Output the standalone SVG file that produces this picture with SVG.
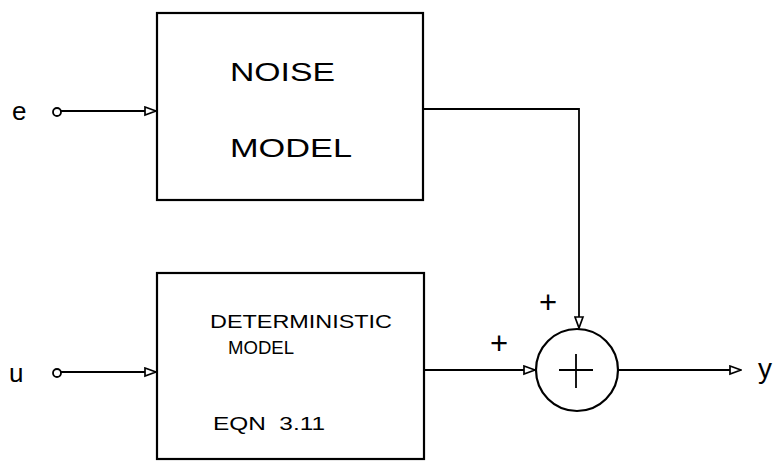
<svg xmlns="http://www.w3.org/2000/svg" width="774" height="463" viewBox="0 0 774 463">
<defs>
<style>
.box{fill:none;stroke:#000;stroke-width:2.2}
.ln{fill:none;stroke:#000;stroke-width:1.8}
.t{font-family:"Liberation Sans",Arial,sans-serif;fill:#000}
</style>
<marker id="ah" markerWidth="13" markerHeight="11" refX="12" refY="5.5" orient="auto" markerUnits="userSpaceOnUse">
<path d="M1,1.5 L12,5.5 L1,9.5 Z" fill="#fff" stroke="#000" stroke-width="1.7"/>
</marker>
</defs>
<rect width="774" height="463" fill="#fff"/>
<g id="input-e">
<circle cx="57" cy="112" r="4" class="ln" fill="#fff"/>
<text class="t" x="12" y="120" font-size="26">e</text>
</g>
<g id="input-u">
<circle cx="57" cy="373" r="4" class="ln" fill="#fff"/>
<text class="t" x="9" y="382" font-size="26">u</text>
</g>
<g id="noise-model">
<rect x="157" y="13" width="266" height="187" class="box"/>
<text class="t" x="230" y="81" font-size="25" textLength="105" lengthAdjust="spacingAndGlyphs">NOISE</text>
<text class="t" x="230" y="157" font-size="25" textLength="122" lengthAdjust="spacingAndGlyphs">MODEL</text>
</g>
<g id="deterministic-model">
<rect x="157" y="273" width="267" height="186" class="box"/>
<text class="t" x="210" y="328" font-size="19" textLength="182" lengthAdjust="spacingAndGlyphs">DETERMINISTIC</text>
<text class="t" x="228" y="354" font-size="19" textLength="66" lengthAdjust="spacingAndGlyphs">MODEL</text>
<text class="t" x="213" y="430" font-size="19" textLength="112" lengthAdjust="spacingAndGlyphs" xml:space="preserve">EQN  3.11</text>
</g>
<g id="sum">
<circle cx="577" cy="370" r="41" class="box"/>
<path d="M559,370 H593 M576,354 V388" class="ln" stroke-width="2.2"/>
<text class="t" x="548" y="313" font-size="31" text-anchor="middle">+</text>
<text class="t" x="499" y="354" font-size="31" text-anchor="middle">+</text>
</g>
<g id="output-y">
<text class="t" x="758" y="378" font-size="28">y</text>
</g>
<g id="connectors">
<path d="M61,111 H156" class="ln" marker-end="url(#ah)"/>
<path d="M61,372 H156" class="ln" marker-end="url(#ah)"/>
<path d="M423,109 H579 V328" class="ln" marker-end="url(#ah)"/>
<path d="M424,370 H535" class="ln" marker-end="url(#ah)"/>
<path d="M618,370 H741" class="ln" marker-end="url(#ah)"/>
</g>
</svg>
